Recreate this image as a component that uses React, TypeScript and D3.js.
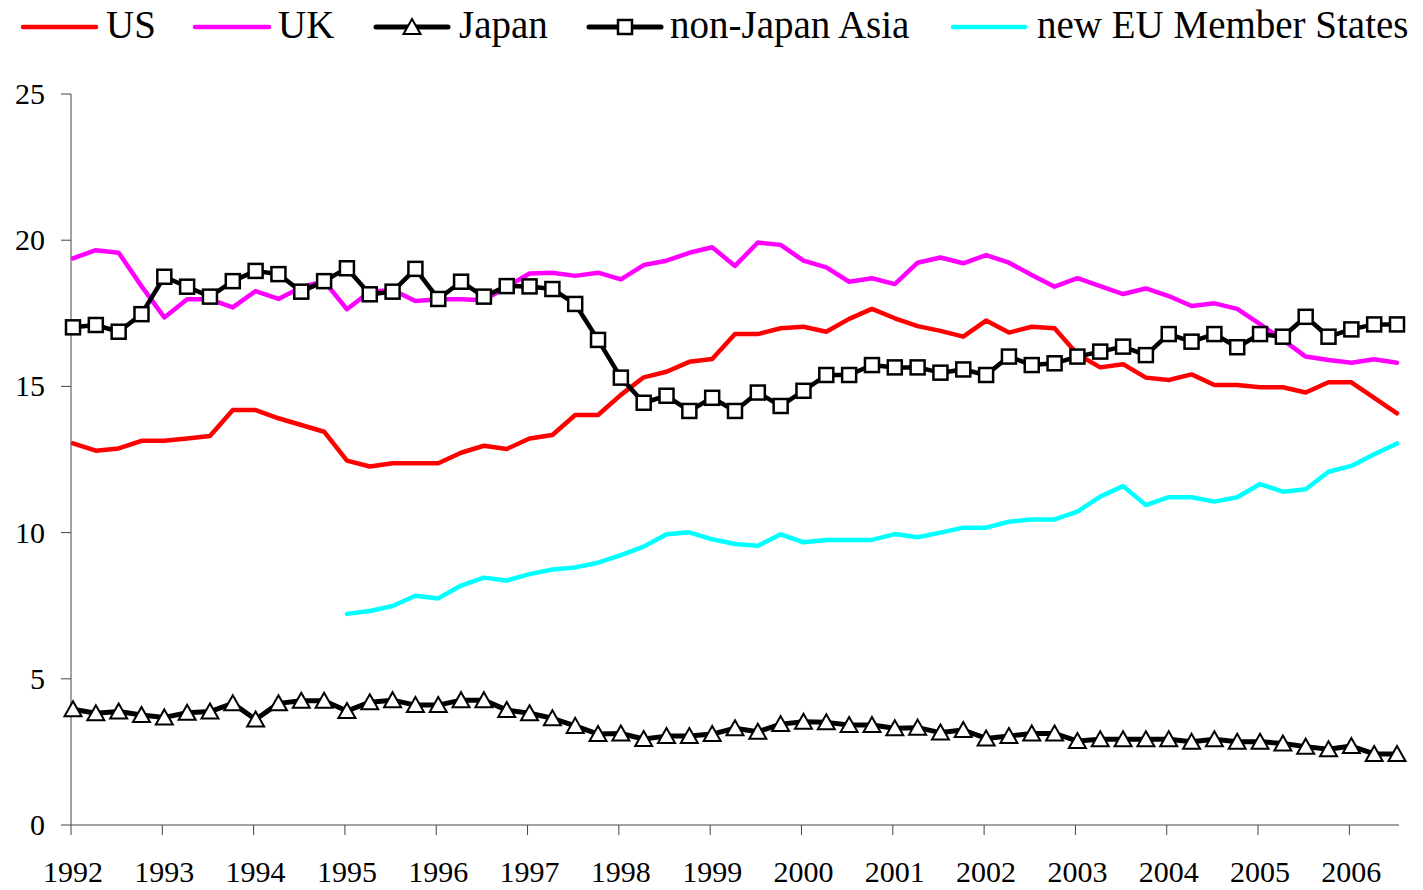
import React from "react";
import * as d3 from "d3";

const years = [1992, 1993, 1994, 1995, 1996, 1997, 1998, 1999, 2000, 2001, 2002, 2003, 2004, 2005, 2006];
// quarterly observations 1992Q1 .. 2006Q3
const quarters: string[] = [];
for (let y = 1992; y <= 2006; y++) for (let q = 1; q <= 4; q++) if (!(y === 2006 && q === 4)) quarters.push(`${y}Q${q}`);

const usValues = [
  13.05, 12.8, 12.88, 13.14, 13.14, 13.22, 13.3, 14.19, 14.19, 13.91,
  13.68, 13.45, 12.46, 12.26, 12.37, 12.37, 12.37, 12.73, 12.97, 12.86,
  13.22, 13.34, 14.02, 14.02, 14.71, 15.31, 15.5, 15.84, 15.94, 16.79,
  16.79, 16.99, 17.04, 16.87, 17.31, 17.65, 17.33, 17.06, 16.9, 16.7,
  17.25, 16.84, 17.04, 16.99, 16.1, 15.65, 15.76, 15.3, 15.22, 15.41,
  15.05, 15.05, 14.97, 14.97, 14.79, 15.14, 15.14, 14.61, 14.08,
];
const ukValues = [
  19.38, 19.66, 19.57, 18.43, 17.36, 17.98, 17.98, 17.7, 18.26, 17.99,
  18.39, 18.6, 17.64, 18.24, 18.3, 17.92, 17.98, 17.98, 17.95, 18.4,
  18.86, 18.89, 18.78, 18.89, 18.66, 19.15, 19.3, 19.57, 19.76, 19.12,
  19.92, 19.84, 19.3, 19.07, 18.58, 18.7, 18.5, 19.23, 19.41, 19.21,
  19.49, 19.23, 18.81, 18.41, 18.7, 18.43, 18.16, 18.35, 18.09, 17.75,
  17.84, 17.65, 17.13, 16.59, 16.02, 15.9, 15.81, 15.93, 15.81,
];
const japanValues = [
  3.96, 3.82, 3.88, 3.76, 3.68, 3.84, 3.88, 4.16, 3.61, 4.16,
  4.25, 4.25, 3.9, 4.2, 4.27, 4.1, 4.1, 4.27, 4.27, 3.93,
  3.82, 3.65, 3.39, 3.11, 3.13, 2.94, 3.04, 3.04, 3.11, 3.31,
  3.19, 3.45, 3.53, 3.51, 3.42, 3.42, 3.31, 3.33, 3.16, 3.25,
  2.96, 3.04, 3.13, 3.13, 2.87, 2.93, 2.93, 2.93, 2.93, 2.85,
  2.93, 2.85, 2.85, 2.79, 2.68, 2.59, 2.7, 2.43, 2.43,
];
const asiaValues = [
  17.02, 17.1, 16.87, 17.47, 18.75, 18.41, 18.07, 18.6, 18.95, 18.84,
  18.24, 18.6, 19.04, 18.15, 18.24, 19.02, 17.99, 18.58, 18.07, 18.43,
  18.42, 18.33, 17.82, 16.59, 15.3, 14.44, 14.68, 14.16, 14.61, 14.16,
  14.79, 14.33, 14.85, 15.39, 15.39, 15.73, 15.65, 15.65, 15.47, 15.58,
  15.39, 16.02, 15.73, 15.79, 16.02, 16.19, 16.36, 16.07, 16.79, 16.53,
  16.79, 16.34, 16.79, 16.7, 17.38, 16.7, 16.95, 17.12, 17.12,
];
const euValues: (number | null)[] = [
  null, null, null, null, null, null, null, null, null, null, null, null,
  7.22, 7.32, 7.49, 7.84, 7.75, 8.19, 8.46, 8.36,
  8.58, 8.74, 8.81, 8.97, 9.23, 9.52, 9.94, 10.01, 9.77, 9.61,
  9.55, 9.94, 9.67, 9.75, 9.75, 9.75, 9.95, 9.84, 10.0, 10.17,
  10.17, 10.37, 10.45, 10.45, 10.72, 11.23, 11.59, 10.94, 11.21, 11.21,
  11.06, 11.21, 11.66, 11.4, 11.48, 12.08, 12.28, 12.68, 13.05,
];
const yTicks = [0, 5, 10, 15, 20, 25];

const FONT = "'Liberation Serif', 'Times New Roman', serif";

const triPath = "M0,-8 L8.5,7 L-8.5,7 Z";

export default function App() {
  const x = d3.scaleLinear().domain([0, quarters.length - 1]).range([73, 1397]);
  const y = d3.scaleLinear().domain([0, 25]).range([825, 94]);
  const line = d3
    .line<number | null>()
    .defined((d) => d !== null)
    .x((_, i) => x(i))
    .y((d) => y(d as number));

  const yearX = (yr: number) => x((yr - 1992) * 4) - 2;

  const legend = [
    { label: "US", color: "#ff0000", x0: 23, x1: 96, tx: 106, marker: null },
    { label: "UK", color: "#ff00ff", x0: 195, x1: 269, tx: 278, marker: null },
    { label: "Japan", color: "#000", x0: 376, x1: 448, tx: 459, marker: "tri" },
    { label: "non-Japan Asia", color: "#000", x0: 589, x1: 661, tx: 670, marker: "sq" },
    { label: "new EU Member States", color: "#00ffff", x0: 953, x1: 1025, tx: 1037, marker: null },
  ];

  return (
    <svg
      width={1423}
      height={890}
      style={{ position: "absolute", left: 0, top: 0, background: "#fff" }}
      fontFamily={FONT}
    >
      <rect width={1423} height={890} fill="#fff" />
      {/* axes */}
      <line x1={71} x2={71} y1={94} y2={825} stroke="#444" strokeWidth={1} />
      <line x1={71} x2={1399} y1={825} y2={825} stroke="#444" strokeWidth={1} />
      {yTicks.map((t) => (
        <g key={t}>
          <line x1={61} x2={71} y1={y(t)} y2={y(t)} stroke="#444" strokeWidth={1} />
          <text x={45} y={y(t) + 10} fontSize={30} textAnchor="end" fill="#000">
            {t}
          </text>
        </g>
      ))}
      {years.map((yr) => (
        <g key={yr}>
          <line x1={yearX(yr)} x2={yearX(yr)} y1={825} y2={835} stroke="#444" strokeWidth={1} />
          <text x={yearX(yr) + 2} y={882} fontSize={30} textAnchor="middle" fill="#000">
            {yr}
          </text>
        </g>
      ))}

      {/* series */}
      <path d={line(usValues) || ""} fill="none" stroke="#ff0000" strokeWidth={4.5} strokeLinejoin="round" strokeLinecap="round" />
      <path d={line(ukValues) || ""} fill="none" stroke="#ff00ff" strokeWidth={4.5} strokeLinejoin="round" strokeLinecap="round" />
      <path d={line(japanValues) || ""} fill="none" stroke="#000" strokeWidth={5} strokeLinejoin="round" />
      {japanValues.map((v, i) => (
        <path key={i} d={triPath} transform={`translate(${x(i)},${y(v)})`} fill="#fff" stroke="#000" strokeWidth={2} />
      ))}
      <path d={line(asiaValues) || ""} fill="none" stroke="#000" strokeWidth={4.5} strokeLinejoin="round" />
      {asiaValues.map((v, i) => (
        <rect key={i} x={x(i) - 7} y={y(v) - 7} width={14} height={14} fill="#fff" stroke="#000" strokeWidth={2.5} />
      ))}
      <path d={line(euValues) || ""} fill="none" stroke="#00ffff" strokeWidth={4.5} strokeLinejoin="round" strokeLinecap="round" />

      {/* legend */}
      {legend.map((l) => (
        <g key={l.label}>
          <line x1={l.x0} x2={l.x1} y1={27} y2={27} stroke={l.color} strokeWidth={l.marker ? 5 : 4.5} strokeLinecap="round" />
          {l.marker === "tri" && (
            <path d={triPath} transform={`translate(${(l.x0 + l.x1) / 2},27)`} fill="#fff" stroke="#000" strokeWidth={2} />
          )}
          {l.marker === "sq" && (
            <rect x={(l.x0 + l.x1) / 2 - 7} y={20} width={14} height={14} fill="#fff" stroke="#000" strokeWidth={2.5} />
          )}
          <text x={l.tx} y={38} fontSize={39} fill="#000">
            {l.label}
          </text>
        </g>
      ))}
    </svg>
  );
}
